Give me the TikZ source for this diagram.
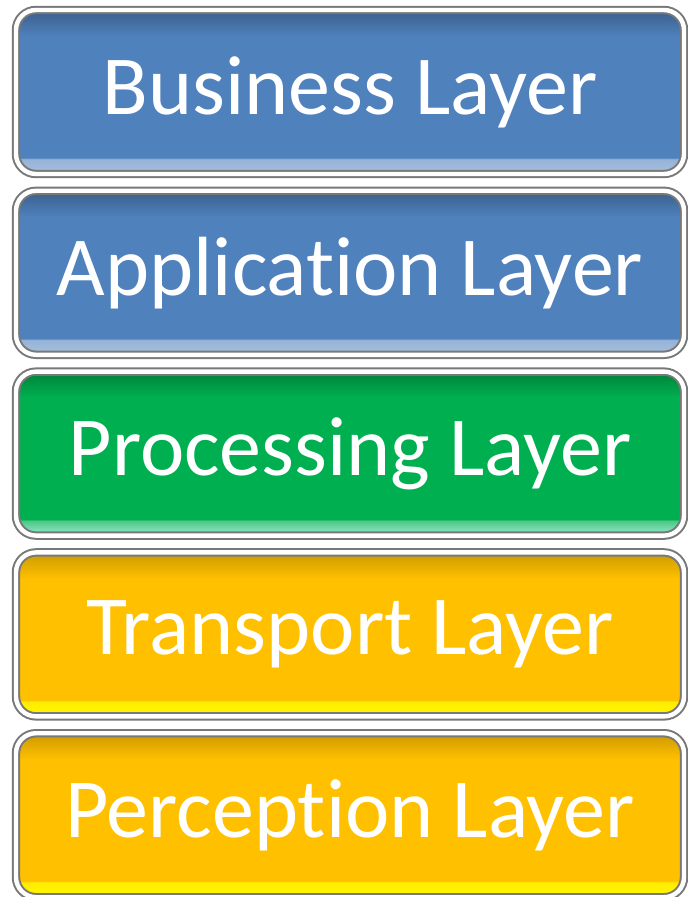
\documentclass[tikz,border=0pt]{standalone}
\usepackage{xcolor}
\usepackage{fontspec}
\setmainfont[Ligatures=NoCommon]{Carlito}
\definecolor{layerblue}{RGB}{79, 129, 189}
\definecolor{layergreen}{RGB}{0, 176, 80}
\definecolor{layergold}{RGB}{255, 192, 0}
\definecolor{framegray}{RGB}{120, 120, 120}
\usepackage{tikz}
\usetikzlibrary{shapes,positioning,shadows,calc}

\pgfdeclareverticalshading{bluebevel}{100bp}{color(0bp)=(layerblue!50!white); color(25bp)=(layerblue!50!white); color(29.5bp)=(layerblue!60!white); color(30bp)=(layerblue); color(67bp)=(layerblue); color(73bp)=(layerblue!80!black); color(75bp)=(layerblue!75!black); color(100bp)=(layerblue!75!black)}
\pgfdeclareverticalshading{greenbevel}{100bp}{color(0bp)=(layergreen!60!cyan!40!white); color(25bp)=(layergreen!60!cyan!40!white); color(29.5bp)=(layergreen!70!white); color(30bp)=(layergreen); color(67bp)=(layergreen); color(73bp)=(layergreen!80!black); color(75bp)=(layergreen!75!black); color(100bp)=(layergreen!75!black)}
\pgfdeclareverticalshading{goldbevel}{100bp}{color(0bp)=(yellow!90!layergold); color(25bp)=(yellow!90!layergold); color(29.5bp)=(yellow!70!layergold); color(30bp)=(layergold); color(67bp)=(layergold); color(73bp)=(layergold!85!black); color(75bp)=(layergold!80!black); color(100bp)=(layergold!80!black)}

\begin{document}
\begin{tikzpicture}[
    node distance=7.4pt,
    layer/.style={rectangle, rounded corners=10pt, minimum width=334pt, minimum height=82pt, align=center,
        draw=framegray, line width=1pt, double=white, double distance=2.2pt,
        text=white, font=\fontsize{42}{46}\selectfont,
        drop shadow={shadow xshift=0.6pt, shadow yshift=-1.2pt, fill=gray!70, opacity=0.8}},
    bluelayer/.style={layer, shading=bluebevel},
    greenlayer/.style={layer, shading=greenbevel},
    goldlayer/.style={layer, shading=goldbevel}
]

\useasboundingbox (0,0) rectangle (343.5pt,-448.5pt);

\node[bluelayer] (business) at (175pt,-46pt) {Business Layer};
\node[bluelayer, below=of business] (application) {Application Layer};
\node[greenlayer, below=of application] (processing) {Processing Layer};
\node[goldlayer, below=of processing] (transport) {Transport Layer};
\node[goldlayer, below=of transport] (perception) {Perception Layer};

\end{tikzpicture}
\end{document}
